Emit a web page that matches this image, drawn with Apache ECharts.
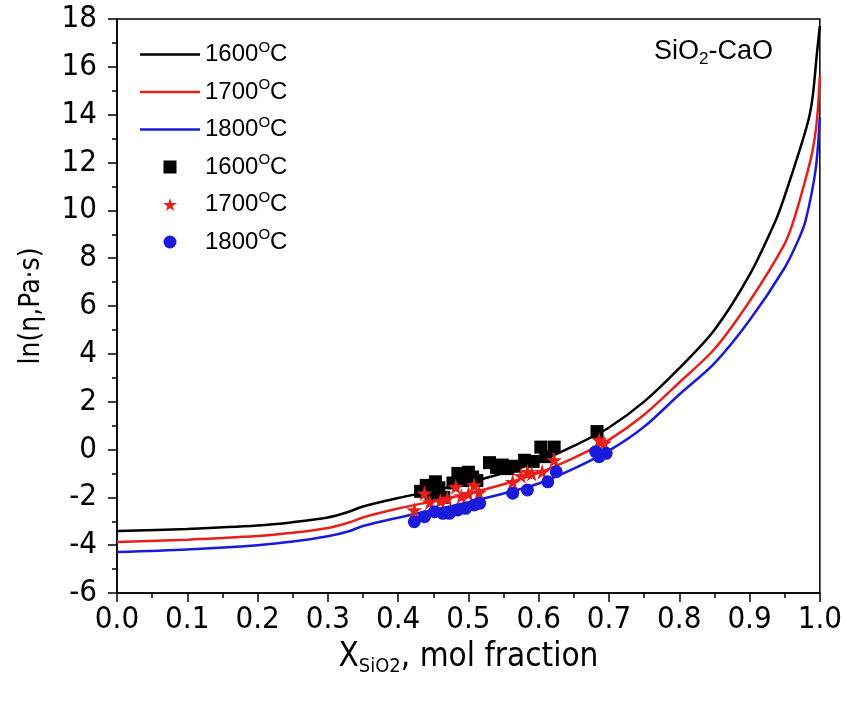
<!DOCTYPE html>
<html><head><meta charset="utf-8">
<script src="https://cdn.jsdelivr.net/npm/echarts@6/dist/echarts.min.js"></script>
<style>html,body{margin:0;padding:0;background:#fff}#c{width:845px;height:709px}</style>
</head><body><div id="c"></div>
<script>
// Model curves: [x, ln(eta)]
const curve1600 = [[0,-3.41],[0.1,-3.32],[0.2,-3.18],[0.25,-3.04],[0.3,-2.84],[0.33,-2.6],[0.35,-2.38],[0.4,-2.03],[0.45,-1.72],[0.5,-1.38],[0.55,-0.98],[0.6,-0.5],[0.65,0.15],[0.7,0.92],[0.75,2.0],[0.8,3.4],[0.85,5.0],[0.9,7.3],[0.9375,9.6],[0.95,10.6],[0.97,12.4],[0.984,13.8],[0.99,14.8],[0.996,16.6],[1.0,17.7]];
const curve1700 = [[0,-3.87],[0.1,-3.77],[0.2,-3.62],[0.25,-3.48],[0.3,-3.28],[0.33,-3.05],[0.35,-2.84],[0.4,-2.47],[0.45,-2.16],[0.5,-1.84],[0.55,-1.45],[0.6,-0.98],[0.65,-0.35],[0.7,0.4],[0.75,1.45],[0.8,2.8],[0.85,4.2],[0.9,6.2],[0.95,8.6],[0.963,9.6],[0.975,10.8],[0.989,12.4],[0.996,13.8],[1.0,15.6]];
const curve1800 = [[0,-4.29],[0.1,-4.18],[0.2,-4.0],[0.25,-3.85],[0.3,-3.63],[0.33,-3.42],[0.35,-3.2],[0.4,-2.85],[0.45,-2.53],[0.5,-2.2],[0.55,-1.84],[0.6,-1.42],[0.65,-0.8],[0.7,-0.05],[0.75,0.95],[0.8,2.3],[0.85,3.6],[0.9,5.4],[0.95,7.6],[0.97,8.8],[0.98,9.6],[0.994,11.7],[1.0,13.9]];
// Experimental points
const exp1600 = [[0.432,-1.75],[0.440,-1.5],[0.447,-1.85],[0.453,-1.35],[0.458,-1.6],[0.465,-2.0],[0.478,-1.4],[0.485,-1.0],[0.492,-1.3],[0.500,-0.95],[0.506,-1.15],[0.512,-1.3],[0.530,-0.55],[0.540,-0.75],[0.548,-0.65],[0.556,-0.8],[0.565,-0.7],[0.580,-0.45],[0.592,-0.5],[0.603,0.1],[0.610,-0.3],[0.622,0.1],[0.683,0.75]];
const exp1700 = [[0.423,-2.53],[0.4375,-1.83],[0.445,-2.2],[0.46,-2.15],[0.47,-2.05],[0.482,-1.56],[0.49,-1.95],[0.50,-1.85],[0.508,-1.49],[0.515,-1.8],[0.563,-1.35],[0.575,-1.1],[0.584,-0.93],[0.59,-1.0],[0.605,-0.93],[0.622,-0.44],[0.686,0.4],[0.693,0.27]];
const exp1800 = [[0.423,-3.02],[0.4375,-2.81],[0.4517,-2.6],[0.4636,-2.67],[0.473,-2.67],[0.485,-2.53],[0.496,-2.46],[0.5085,-2.32],[0.516,-2.25],[0.563,-1.83],[0.584,-1.69],[0.613,-1.35],[0.625,-0.93],[0.681,-0.09],[0.686,-0.3],[0.696,-0.16]];
const legendLabels = {'L1600':'1600','L1700':'1700','L1800':'1800','P1600':'1600','P1700':'1700','P1800':'1800'};
const xTicks = {min:0, max:1, interval:0.1};
const yTicks = {min:-6, max:18, interval:2};

const font = 'Liberation Sans, Arial, sans-serif';
const narrow = '"Liberation Sans Narrow", "Arial Narrow", "DejaVu Sans Condensed", sans-serif';
const STAR = 'path://M50,0 L61,35 L98,35 L68,57 L79,91 L50,70 L21,91 L32,57 L2,35 L39,35 Z';
const LINEICON = 'path://M0,0 L60,0 L60,2.5 L0,2.5 Z';
const chart = echarts.init(document.getElementById('c'));
function lineS(name, data, color){return {name, type:'line', data, showSymbol:false, symbol:'none', smooth:0.3, lineStyle:{color, width:2.5}, itemStyle:{color}, z:2};}
function ptS(name, data, color, symbol, size){return {name, type:'scatter', data, symbol, symbolSize:size, itemStyle:{color, opacity:1}, z:3};}
chart.setOption({
  animation:false,
  grid:{left:117, right:24, top:19, bottom:116, show:true, borderColor:'#000', borderWidth:1.5},
  title:{text:'SiO{s|2}-CaO', left:649, top:30, textStyle:{fontFamily:font, fontSize:27, fontWeight:'normal', color:'#000', rich:{s:{fontFamily:font, fontSize:17, padding:[16,0,0,0], color:'#000'}}}},
  legend:{orient:'vertical', left:135, top:35, itemWidth:60, itemHeight:13, itemGap:11,
    data:[{name:'L1600', icon:LINEICON},{name:'L1700', icon:LINEICON},{name:'L1800', icon:LINEICON},{name:'P1600', icon:'path://M0,0 L10,0 L10,10 L0,10 Z'},{name:'P1700', icon:STAR},{name:'P1800', icon:'circle'}],
    formatter:n=>'{b|'+legendLabels[n]+'}{s|O}{b|C}',
    textStyle:{fontFamily:font, fontSize:24, color:'#000', rich:{b:{fontFamily:font, fontSize:24, color:'#000'}, s:{fontFamily:font, fontSize:15, padding:[0,0,14,0], color:'#000'}}}},
  xAxis:{type:'value', min:xTicks.min, max:xTicks.max, interval:xTicks.interval,
    name:'X{s|SiO2}, mol fraction', nameLocation:'middle', nameGap:44,
    nameTextStyle:{fontFamily:narrow, fontSize:33, color:'#000', rich:{s:{fontFamily:narrow, fontSize:20, padding:[20,0,0,0], color:'#000'}}},
    axisLine:{onZero:false, lineStyle:{color:'#000', width:1.5}},
    axisTick:{show:true, inside:false, length:9, lineStyle:{color:'#000', width:1.5}},
    minorTick:{show:true, splitNumber:2, length:5, lineStyle:{color:'#000', width:1.5}},
    splitLine:{show:false},
    axisLabel:{fontFamily:narrow, fontSize:31, color:'#000', margin:11, formatter:v=>v.toFixed(1)}},
  yAxis:{type:'value', min:yTicks.min, max:yTicks.max, interval:yTicks.interval,
    name:'ln(η,Pa·s)', nameLocation:'middle', nameGap:71, nameRotate:90,
    nameTextStyle:{fontFamily:narrow, fontSize:28, color:'#000'},
    axisLine:{show:true, lineStyle:{color:'#000', width:1.5}},
    axisTick:{show:true, inside:false, length:9, lineStyle:{color:'#000', width:1.5}},
    minorTick:{show:true, splitNumber:2, length:5, lineStyle:{color:'#000', width:1.5}},
    splitLine:{show:false},
    axisLabel:{fontFamily:narrow, fontSize:31, color:'#000', margin:20}},
  series:[
    lineS('L1600', curve1600, '#000000'),
    lineS('L1700', curve1700, '#e8201b'),
    lineS('L1800', curve1800, '#1a1adb'),
    ptS('P1600', exp1600, '#000000', 'rect', 13),
    ptS('P1700', exp1700, '#e8201b', STAR, 16),
    ptS('P1800', exp1800, '#1a1adb', 'circle', 13)
  ]
});
</script></body></html>
